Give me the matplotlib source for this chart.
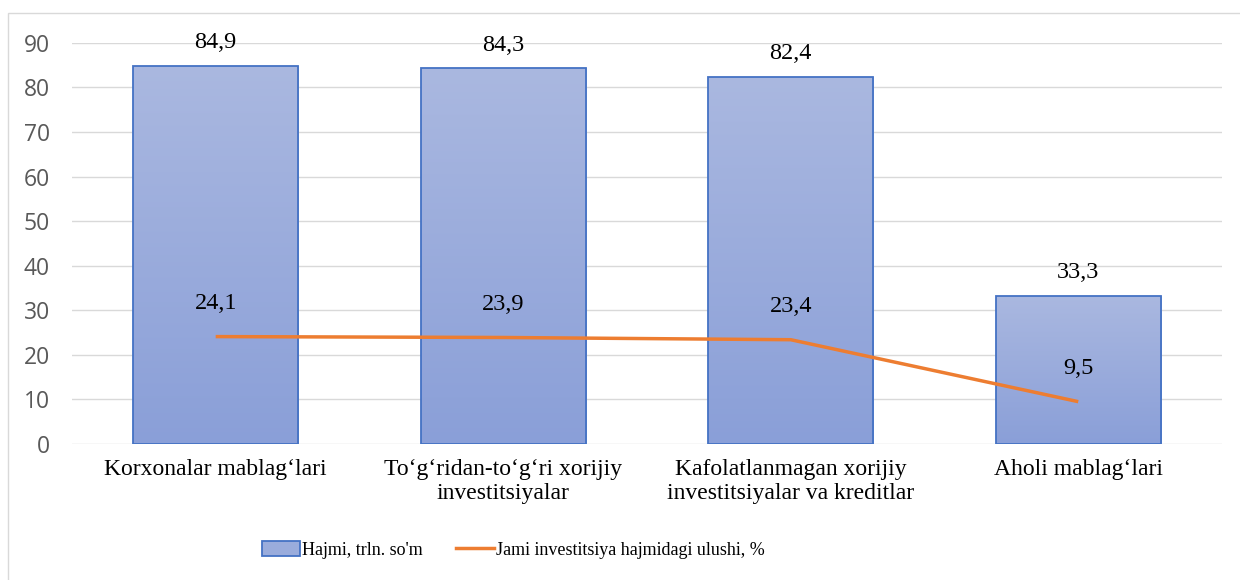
import matplotlib

matplotlib.use("Agg")
import matplotlib.pyplot as plt
import numpy as np
from matplotlib.colors import LinearSegmentedColormap
from matplotlib.patches import Rectangle

categories = [
    "Korxonalar mablag\u2018lari",
    "To\u2018g\u2018ridan-to\u2018g\u2018ri xorijiy\ninvestitsiyalar",
    "Kafolatlanmagan xorijiy\ninvestitsiyalar va kreditlar",
    "Aholi mablag\u2018lari",
]
volume = [84.9, 84.3, 82.4, 33.3]
share = [24.1, 23.9, 23.4, 9.5]
volume_labels = ["84,9", "84,3", "82,4", "33,3"]
share_labels = ["24,1", "23,9", "23,4", "9,5"]
yticks = [0, 10, 20, 30, 40, 50, 60, 70, 80, 90]

SERIF = "Liberation Serif"
BAR_EDGE = "#4472C4"
LINE_COLOR = "#ED7D31"
grad = LinearSegmentedColormap.from_list("bar", ["#8A9FD8", "#AAB8E0"])

fig = plt.figure(figsize=(12.4, 5.8), dpi=100)
ax = fig.add_axes([0.058, 0.2345, 0.9275, 0.6915])

# light frame around the chart area
fig.patches.append(Rectangle((8 / 1240, -0.1), 1.2, 1 - 13 / 580 + 0.1,
                             transform=fig.transFigure, fill=False,
                             edgecolor="#D9D9D9", linewidth=1.0, zorder=0))

x = np.arange(len(categories))
bars = ax.bar(x, volume, width=0.575, color="#9AACDC", edgecolor=BAR_EDGE,
              linewidth=1.3, zorder=2)

# vertical gradient inside each bar
gradient = np.linspace(0, 1, 256).reshape(-1, 1)
for b in bars:
    x0, y0 = b.get_x(), b.get_y()
    w, h = b.get_width(), b.get_height()
    im = ax.imshow(gradient, extent=[x0, x0 + w, y0, y0 + h], origin="lower",
                   cmap=grad, aspect="auto", zorder=2.1)
    im.set_clip_path(b)
    b.set_facecolor("none")
    b.set_zorder(2.2)

ax.plot(x, share, color=LINE_COLOR, linewidth=2.5, zorder=3,
        solid_capstyle="butt")

for xi, v, lab in zip(x, volume, volume_labels):
    ax.annotate(lab, (xi, v), xytext=(0, 16.5), textcoords="offset points",
                ha="center", va="center", fontsize=17.5, family=SERIF)
for xi, v, lab in zip(x, share, share_labels):
    ax.annotate(lab, (xi, v), xytext=(0, 24), textcoords="offset points",
                ha="center", va="center", fontsize=17.5, family=SERIF)

ax.set_xlim(-0.5, len(categories) - 0.5)
ax.set_ylim(0, 90)
ax.set_yticks(yticks)
ax.set_xticks(x)
ax.set_xticklabels(categories, family=SERIF, fontsize=17, linespacing=1.15)
ax.tick_params(axis="x", length=0, pad=11)
ax.tick_params(axis="y", length=0, pad=16, labelsize=16.5, labelcolor="#595959")
for lab in ax.get_yticklabels():
    lab.set_family("Open Sans")
ax.grid(axis="y", color="#D9D9D9", linewidth=1.0, zorder=0)
ax.set_axisbelow(True)
for s in ax.spines.values():
    s.set_visible(False)

handles = [
    Rectangle((0, 0), 1, 1, facecolor="#9AACDC", edgecolor=BAR_EDGE, linewidth=1.3),
    plt.Line2D([0], [0], color=LINE_COLOR, linewidth=2.5),
]
fig.legend(handles, ["Hajmi, trln. so'm", "Jami investitsiya hajmidagi ulushi, %"],
           loc="center", bbox_to_anchor=(0.414, 0.052), ncol=2, frameon=False,
           prop={"family": SERIF, "size": 13}, handlelength=2.1,
           handleheight=0.85, handletextpad=0.15, columnspacing=1.8)

fig.savefig("out.png", dpi=100)
plt.close(fig)
